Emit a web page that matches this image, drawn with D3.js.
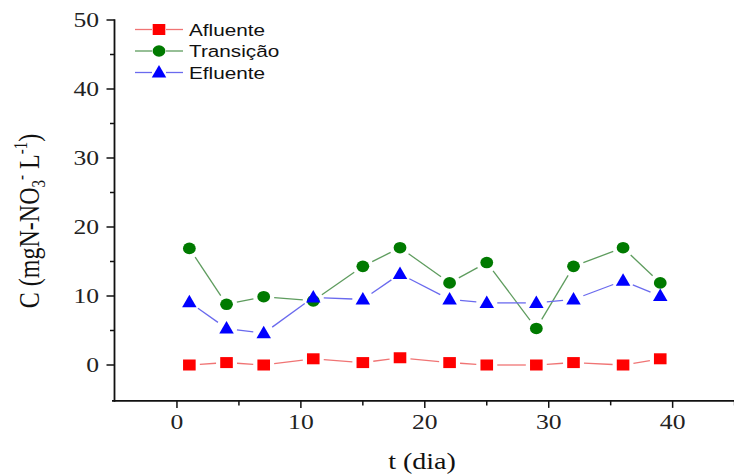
<!DOCTYPE html>
<html>
<head>
<meta charset="utf-8">
<script src="https://cdn.jsdelivr.net/npm/d3@7/dist/d3.min.js"></script>
<style>
  html, body { margin: 0; padding: 0; background: #fff; }
  svg { display: block; }
</style>
</head>
<body>
<svg id="chart" width="734" height="476"></svg>
<script>
// Nitrate concentration (mgN-NO3- per litre) along the reactor over time
const days      = [1, 4, 7, 11, 15, 18, 22, 25, 29, 32, 36, 39];
const afluente  = [0, 0.35, 0, 0.9, 0.35, 1.05, 0.35, 0, 0, 0.35, 0, 0.9];
const transicao = [16.9, 8.8, 9.9, 9.3, 14.3, 17.0, 11.9, 14.85, 5.3, 14.3, 17.0, 11.9];
const efluente  = [9.1, 5.3, 4.6, 9.8, 9.5, 13.2, 9.5, 9.0, 9.0, 9.5, 12.2, 10.0];

const seriesNames = ["Afluente", "Transição", "Efluente"];
const xTicks = [0, 10, 20, 30, 40];
const yTicks = [0, 10, 20, 30, 40, 50];

const svg = d3.select("#chart");
const SX = 1.22; // horizontal stretch applied to the lettering

const x = d3.scaleLinear().domain([-5, 45]).range([115, 734.6]);
const y = d3.scaleLinear().domain([0, 50]).range([365, 20]);
const yBottom = -5.2;

const styles = [
  { values: afluente,  line: "#f07474", fill: "#ff0000", shape: "square" },
  { values: transicao, line: "#5e9c5e", fill: "#007a00", shape: "circle" },
  { values: efluente,  line: "#6a6aee", fill: "#0000ff", shape: "triangle" }
];

function stretchedText(parent, px, py, rot) {
  const g = parent.append("g")
    .attr("transform", `translate(${px},${py}) scale(${SX},1)` + (rot ? ` rotate(${rot})` : ""));
  return g.append("text").attr("x", 0).attr("y", 0);
}

function marker(parent, shape, cx, cy, fill) {
  if (shape === "square") {
    parent.append("rect").attr("x", cx - 6.3).attr("y", cy - 5.5)
      .attr("width", 12.6).attr("height", 11).attr("fill", fill);
  } else if (shape === "circle") {
    parent.append("ellipse").attr("cx", cx).attr("cy", cy)
      .attr("rx", 6.4).attr("ry", 5.8).attr("fill", fill);
  } else {
    const w = 14.5, h = 12.5;
    parent.append("path")
      .attr("d", `M${cx},${cy - h * 0.6}L${cx + w / 2},${cy + h * 0.4}L${cx - w / 2},${cy + h * 0.4}Z`)
      .attr("fill", fill);
  }
}

// Connecting segments stop short of each symbol
function gappedSegments(parent, pts, color, gap) {
  for (let i = 0; i < pts.length - 1; i++) {
    const [x0, y0] = pts[i], [x1, y1] = pts[i + 1];
    const dx = x1 - x0, dy = y1 - y0, len = Math.hypot(dx, dy);
    if (len <= 2 * gap) continue;
    const ux = dx / len, uy = dy / len;
    parent.append("line")
      .attr("x1", x0 + ux * gap).attr("y1", y0 + uy * gap)
      .attr("x2", x1 - ux * gap).attr("y2", y1 - uy * gap)
      .attr("stroke", color).attr("stroke-width", 1.3);
  }
}

// Axes
const axisColor = "#111";
const xAxisY = y(yBottom);
const xAxis = d3.axisBottom(x).tickValues(d3.range(-5, 46, 5)).tickSize(0).tickFormat("");
const gx = svg.append("g").attr("transform", `translate(0,${xAxisY})`).call(xAxis);
gx.select(".domain").remove();
svg.append("line").attr("x1", 112).attr("x2", 734).attr("y1", xAxisY).attr("y2", xAxisY)
  .attr("stroke", axisColor).attr("stroke-width", 1.8);
d3.range(0, 46, 5).forEach(v => {
  const major = v % 10 === 0;
  svg.append("line").attr("x1", x(v)).attr("x2", x(v))
    .attr("y1", xAxisY).attr("y2", xAxisY + (major ? 7 : 4.5))
    .attr("stroke", axisColor).attr("stroke-width", 1.5);
});
xTicks.forEach(v => {
  stretchedText(svg, x(v), 428.5)
    .attr("text-anchor", "middle")
    .attr("font-family", "Liberation Serif, Times New Roman, serif")
    .attr("font-size", 21).attr("fill", "#222").text(v);
});

const yAxisX = 114.5;
svg.append("line").attr("x1", yAxisX).attr("x2", yAxisX).attr("y1", y(50) - 0.8).attr("y2", xAxisY + 0.9)
  .attr("stroke", axisColor).attr("stroke-width", 1.8);
d3.range(0, 51, 5).forEach(v => {
  const major = v % 10 === 0;
  svg.append("line").attr("x1", yAxisX - (major ? 8 : 4.5)).attr("x2", yAxisX)
    .attr("y1", y(v)).attr("y2", y(v))
    .attr("stroke", axisColor).attr("stroke-width", 1.5);
});
yTicks.forEach(v => {
  stretchedText(svg, 99, y(v))
    .attr("text-anchor", "end").attr("dy", "0.34em")
    .attr("font-family", "Liberation Serif, Times New Roman, serif")
    .attr("font-size", 21).attr("fill", "#222").text(v);
});

// Axis titles
stretchedText(svg, 422, 469)
  .attr("text-anchor", "middle")
  .attr("font-family", "Liberation Serif, Times New Roman, serif")
  .attr("font-size", 23).attr("fill", "#111").text("t (dia)");

const yt = stretchedText(svg, 39, 221, -90)
  .attr("text-anchor", "middle")
  .attr("font-family", "Liberation Serif, Times New Roman, serif")
  .attr("font-size", 24).attr("fill", "#111");
yt.append("tspan").text("C (mgN-NO");
yt.append("tspan").attr("font-size", 15).attr("dy", 5).text("3");
yt.append("tspan").attr("font-size", 15).attr("dy", -15).text("-");
yt.append("tspan").attr("dy", 10).text(" L");
yt.append("tspan").attr("font-size", 15).attr("dy", -10).text("-1");
yt.append("tspan").attr("dy", 10).text(")");

// Series
styles.forEach(s => {
  const g = svg.append("g");
  const pts = days.map((d, i) => [x(d), y(s.values[i])]);
  gappedSegments(g, pts, s.line, 10.5);
  pts.forEach(p => marker(g, s.shape, p[0], p[1], s.fill));
});

// Legend
const legendRows = [29.5, 51, 72.5];
styles.forEach((s, i) => {
  const cy = legendRows[i];
  svg.append("line").attr("x1", 135).attr("x2", 152).attr("y1", cy).attr("y2", cy)
    .attr("stroke", s.line).attr("stroke-width", 1.3);
  svg.append("line").attr("x1", 166).attr("x2", 183).attr("y1", cy).attr("y2", cy)
    .attr("stroke", s.line).attr("stroke-width", 1.3);
  marker(svg, s.shape, 159, cy, s.fill);
  stretchedText(svg, 189, cy + 6)
    .attr("font-family", "Liberation Sans, Arial, sans-serif")
    .attr("font-size", 17).attr("fill", "#111").text(seriesNames[i]);
});
</script>
</body>
</html>
